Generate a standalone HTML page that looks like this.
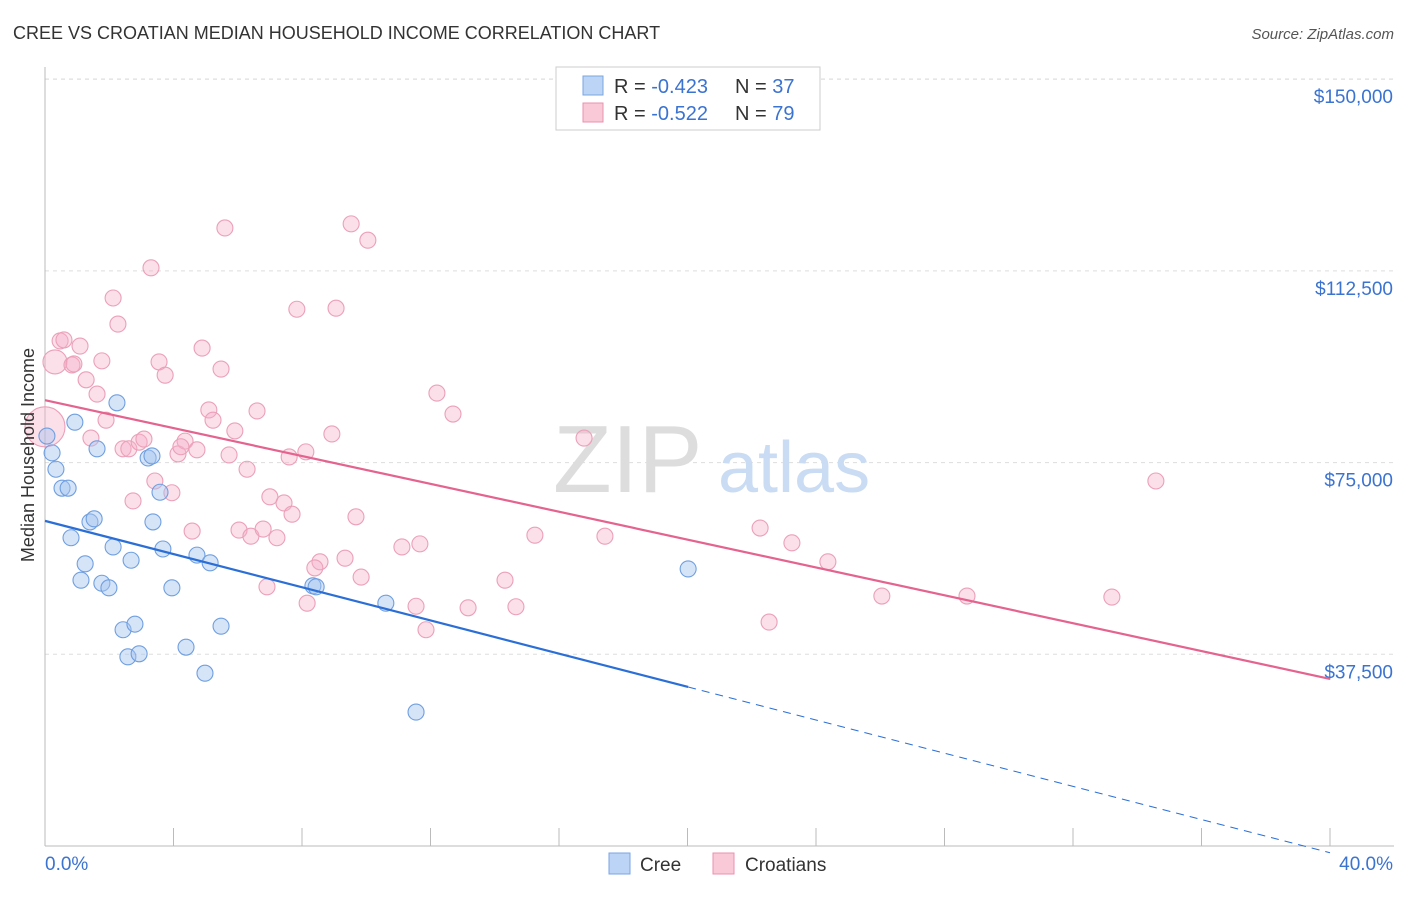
<!DOCTYPE html>
<html><head><meta charset="utf-8"><style>
body{margin:0;background:#fff;font-family:"Liberation Sans",sans-serif;}
svg text{font-family:"Liberation Sans",sans-serif;}
</style></head><body>
<svg id="chart" width="1406" height="892">
<text x="13" y="39" font-size="18" fill="#333">CREE VS CROATIAN MEDIAN HOUSEHOLD INCOME CORRELATION CHART</text>
<text x="1394" y="39" font-size="15" fill="#555" font-style="italic" text-anchor="end">Source: ZipAtlas.com</text>
<g id="grid"></g>
<g><text x="553" y="492" font-size="96" fill="#ddd" font-family="Liberation Serif">ZIP</text><text x="718" y="492" font-size="72" fill="#c9dcf3">atlas</text></g>
<g id="marks"></g>
<text transform="translate(34,455) rotate(-90)" font-size="18" fill="#333" text-anchor="middle">Median Household Income</text>
<g>
<rect x="556" y="67" width="264" height="63" fill="#fff" stroke="#ccc"/>
<rect x="583" y="76" width="20" height="19" fill="#bcd4f5" stroke="#7aa6e0"/>
<rect x="583" y="103" width="20" height="19" fill="#f9c9d8" stroke="#e892ae"/>
<text x="614" y="93" font-size="20" fill="#333">R = <tspan fill="#3b73d1">-0.423</tspan><tspan dx="27">N = </tspan><tspan fill="#3b73d1">37</tspan></text>
<text x="614" y="120" font-size="20" fill="#333">R = <tspan fill="#3b73d1">-0.522</tspan><tspan dx="27">N = </tspan><tspan fill="#3b73d1">79</tspan></text>
</g>
<g>
<rect x="609" y="853" width="21" height="21" fill="#bcd4f5" stroke="#7aa6e0"/>
<text x="640" y="871" font-size="19" fill="#333">Cree</text>
<rect x="713" y="853" width="21" height="21" fill="#f9c9d8" stroke="#e892ae"/>
<text x="745" y="871" font-size="19" fill="#333">Croatians</text>
</g>
</svg>
<script>
const creeX=[0.06,0.22,0.34,0.53,0.72,0.93,1.62,2.24,3.21,3.33,3.58,1.40,1.53,0.81,2.12,3.36,1.25,2.68,3.67,4.73,5.14,1.12,1.77,1.99,3.95,8.34,8.44,10.61,2.43,2.80,5.48,2.58,2.93,4.39,4.98,11.55,20.02];
const creeY=[80.2,76.9,73.7,70.0,70.0,82.9,77.7,86.7,75.9,76.3,69.2,63.4,64.0,60.3,58.5,63.4,55.2,55.9,58.1,56.9,55.4,52.0,51.4,50.5,50.5,50.9,50.7,47.5,42.3,43.4,43.0,37.0,37.6,38.9,33.8,26.2,54.2];
const croX=[0,0.31,0.47,0.59,0.84,1.09,0.90,1.77,1.28,1.62,2.12,2.27,3.30,3.55,3.74,4.89,5.60,5.48,5.10,5.23,5.91,6.60,5.73,6.29,7.84,9.06,9.53,10.05,12.20,12.70,8.93,7.60,8.12,1.43,1.90,2.43,2.61,2.93,3.08,4.14,4.36,4.23,4.73,3.42,3.95,2.74,4.58,6.04,6.41,6.79,7.22,7.00,7.44,7.69,9.68,9.34,8.56,8.40,9.84,8.16,6.91,11.11,11.67,11.55,11.86,13.17,14.32,14.66,15.25,16.78,17.43,22.26,23.25,24.37,22.54,26.05,28.70,33.21,34.58];
const croY=[82.0,94.7,98.8,99.0,94.1,97.8,94.3,94.9,91.2,88.4,107.2,102.1,113.1,94.7,92.1,97.4,120.9,93.3,85.3,83.3,81.2,85.1,76.5,73.7,105.0,105.2,121.7,118.5,88.6,84.5,80.6,76.1,77.1,79.8,83.3,77.7,77.7,79.0,79.6,76.7,79.2,78.1,77.5,71.4,69.1,67.5,61.6,61.8,60.6,62.0,60.3,68.3,67.1,64.9,64.4,56.3,55.6,54.4,52.6,47.5,50.7,58.5,59.1,46.9,42.3,46.6,52.0,46.8,60.8,79.8,60.6,62.2,59.3,55.6,43.8,48.9,48.9,48.7,71.4];
const creeTrend=[63.6,-1.623];
const croTrend=[87.2,-1.363];
const yTicks=[37.5,75,112.5,150];
const yTickLabels=["$37,500","$75,000","$112,500","$150,000"];
const xTicks=[0,4,8,12,16,20,24,28,32,36,40];

const NS="http://www.w3.org/2000/svg";
const X=v=>45+v*(1285/40);
const Y=v=>846-v*(191.7/37.5);
function mk(tag,attrs,parent){const e=document.createElementNS(NS,tag);for(const k in attrs)e.setAttribute(k,attrs[k]);parent.appendChild(e);return e;}
const grid=document.getElementById('grid');
const marks=document.getElementById('marks');
yTicks.forEach((t,i)=>{
 const l=mk('line',{x1:45,x2:1394,y1:Y(t),y2:Y(t),stroke:'#ddd','stroke-dasharray':'4,4'},grid);
 
 
 const tx=mk('text',{x:1393,y:Y(t)+24,'font-size':19,fill:'#3b73d1','text-anchor':'end'},grid);
 tx.textContent=yTickLabels[i];
 
 
});
const topGrid=mk('line',{x1:45,x2:1394,y1:79,y2:79,stroke:'#ddd','stroke-dasharray':'4,4'},grid);


mk('line',{x1:45,x2:45,y1:67,y2:846,stroke:'#bbb'},grid);
mk('line',{x1:45,x2:1394,y1:846,y2:846,stroke:'#bbb'},grid);
xTicks.forEach(t=>{
 const l=mk('line',{x1:X(t),x2:X(t),y1:828,y2:846,stroke:'#bbb'},grid);
 
 
});
const x0=mk('text',{x:45,y:870,'font-size':19,fill:'#3b73d1'},grid);x0.textContent='0.0%';


const x1=mk('text',{x:1393,y:870,'font-size':19,fill:'#3b73d1','text-anchor':'end'},grid);x1.textContent='40.0%';



croX.forEach((v,i)=>{
 const c=mk('circle',{cx:X(v),cy:Y(croY[i]),r:i===0?20:(i===1?12:8),fill:'rgba(245,176,200,0.4)',stroke:'#eba0b9','stroke-width':1.1},marks);
 
 
});
creeX.forEach((v,i)=>{
 const c=mk('circle',{cx:X(v),cy:Y(creeY[i]),r:8,fill:'rgba(164,196,240,0.45)',stroke:'#6f9fe0','stroke-width':1.1},marks);
 
 
});
const creeMax=Math.max(...creeX);
const t1=mk('line',{x1:X(0),y1:Y(creeTrend[0]),x2:X(creeMax),y2:Y(creeTrend[0]+creeTrend[1]*creeMax),stroke:'#2b6fd6','stroke-width':2.2},marks);


const t1d=mk('line',{x1:X(creeMax),y1:Y(creeTrend[0]+creeTrend[1]*creeMax),x2:X(40),y2:Y(creeTrend[0]+creeTrend[1]*40),stroke:'#2b6fd6','stroke-width':1,'stroke-dasharray':'8,6'},marks);


const t2=mk('line',{x1:X(0),y1:Y(croTrend[0]),x2:X(40),y2:Y(croTrend[0]+croTrend[1]*40),stroke:'#e4638f','stroke-width':2.2},marks);


</script>
</body></html>
